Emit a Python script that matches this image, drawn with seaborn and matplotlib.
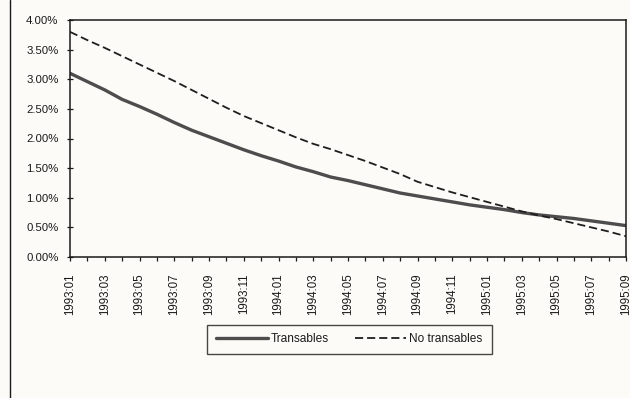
import matplotlib
matplotlib.use("Agg")
import matplotlib.pyplot as plt
import pandas as pd
import seaborn as sns
from matplotlib import font_manager
from matplotlib.lines import Line2D
from matplotlib.ticker import PercentFormatter

# Monthly categories, 1993:01 .. 1995:09
months = [
    "1993:01", "1993:02", "1993:03", "1993:04", "1993:05", "1993:06",
    "1993:07", "1993:08", "1993:09", "1993:10", "1993:11", "1993:12",
    "1994:01", "1994:02", "1994:03", "1994:04", "1994:05", "1994:06",
    "1994:07", "1994:08", "1994:09", "1994:10", "1994:11", "1994:12",
    "1995:01", "1995:02", "1995:03", "1995:04", "1995:05", "1995:06",
    "1995:07", "1995:08", "1995:09",
]

# Monthly rates, in percent
transables = [
    3.10, 2.96, 2.82, 2.66, 2.54, 2.41, 2.27, 2.14, 2.03, 1.92, 1.81,
    1.71, 1.62, 1.52, 1.44, 1.35, 1.29, 1.22, 1.15, 1.08, 1.03, 0.98,
    0.93, 0.88, 0.84, 0.80, 0.75, 0.71, 0.68, 0.65, 0.61, 0.57, 0.53,
]
no_transables = [
    3.80, 3.66, 3.53, 3.39, 3.25, 3.11, 2.97, 2.82, 2.67, 2.52, 2.38,
    2.26, 2.14, 2.02, 1.91, 1.82, 1.72, 1.62, 1.51, 1.40, 1.27, 1.18,
    1.09, 1.01, 0.93, 0.85, 0.77, 0.70, 0.64, 0.57, 0.50, 0.43, 0.35,
]

series_names = ["Transables", "No transables"]
y_ticks = [0.0, 0.5, 1.0, 1.5, 2.0, 2.5, 3.0, 3.5, 4.0]

df = pd.DataFrame({
    "pos": list(range(len(months))) * 2,
    "value": transables + no_transables,
    "serie": [series_names[0]] * len(months) + [series_names[1]] * len(months),
})

sns.set_theme(style="white")
available = {f.name for f in font_manager.fontManager.ttflist}
narrow = "Liberation Sans Narrow" if "Liberation Sans Narrow" in available else "Liberation Sans"
plt.rcParams["font.family"] = ["Liberation Sans", "DejaVu Sans"]

W, H = 630, 398
fig = plt.figure(figsize=(W / 100, H / 100), dpi=100)
bg = "#fcfbf7"
fig.patch.set_facecolor(bg)

left, right, top, bottom = 70, 626, 20, 257
ax = fig.add_axes([left / W, 1 - bottom / H, (right - left) / W, (bottom - top) / H])
ax.set_facecolor(bg)

solid_color = "#4d4d4d"
dash_color = "#1e1e1e"
dash_pattern = (4.5, 2.2)

sns.lineplot(
    data=df, x="pos", y="value", hue="serie", style="serie",
    palette={"Transables": solid_color, "No transables": dash_color},
    dashes={"Transables": "", "No transables": dash_pattern},
    size="serie", sizes={"Transables": 2.4, "No transables": 1.3},
    ax=ax, legend=False,
)

ax.set_xlim(0, len(months) - 1)
ax.set_ylim(0, 4.0)
ax.set_xlabel("")
ax.set_ylabel("")

ax.set_yticks(y_ticks)
ax.yaxis.set_major_formatter(PercentFormatter(xmax=100, decimals=2))
ax.set_xticks(list(range(len(months))))
ax.set_xticklabels([m if i % 2 == 0 else "" for i, m in enumerate(months)],
                   rotation=90)

ax.tick_params(axis="y", direction="inout", length=4.5, width=0.9,
               pad=6.0, labelsize=8.2, colors="#1a1a1a", left=True)
ax.tick_params(axis="x", direction="out", length=3, width=0.9,
               pad=9.0, labelsize=8.3, colors="#1a1a1a", bottom=True)

for s in ax.spines.values():
    s.set_visible(True)
    s.set_color("#1a1a1a")
    s.set_linewidth(1.1)

handles = [
    Line2D([], [], color=solid_color, lw=2.4),
    Line2D([], [], color=dash_color, lw=1.3, dashes=dash_pattern),
]
leg = fig.legend(
    handles, series_names, loc="center",
    bbox_to_anchor=(349.5 / W, 1 - 339.5 / H), bbox_transform=fig.transFigure,
    ncol=2, frameon=True, fancybox=False, shadow=False,
    handlelength=4.3, handletextpad=0.25, columnspacing=2.2,
    borderpad=0.75, prop={"family": narrow, "size": 8.6},
)
leg.get_frame().set_edgecolor("#1a1a1a")
leg.get_frame().set_linewidth(1.0)
leg.get_frame().set_facecolor(bg)
for t in leg.get_texts():
    t.set_color("#1a1a1a")

# Left edge of the surrounding chart frame
fig.add_artist(Line2D([10 / W, 10 / W], [0, 1], transform=fig.transFigure,
                      color="#1a1a1a", lw=1.0))

fig.savefig("out.png", dpi=100, facecolor=fig.get_facecolor())
